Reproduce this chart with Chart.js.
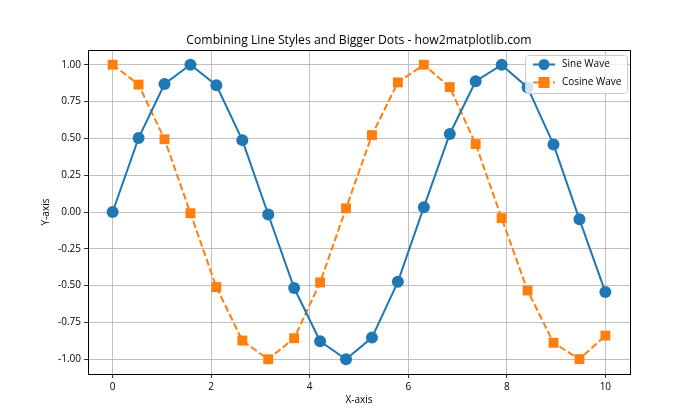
<!DOCTYPE html>
<html>
<head>
<meta charset="utf-8">
<script src="https://cdn.jsdelivr.net/npm/chart.js@4"></script>
<style>
  body { margin: 0; background: #fff; }
  #wrap { width: 700px; height: 420px; }
</style>
</head>
<body>
<div id="wrap"><canvas id="chart" width="700" height="420"></canvas></div>
<script>
// Data
const xValues = [0, 0.526, 1.053, 1.579, 2.105, 2.632, 3.158, 3.684, 4.211, 4.737,
                 5.263, 5.789, 6.316, 6.842, 7.368, 7.895, 8.421, 8.947, 9.474, 10];
const sineValues = [0, 0.502, 0.869, 1.000, 0.861, 0.488, -0.017, -0.516, -0.878, -1.000,
                    -0.853, -0.474, 0.033, 0.530, 0.888, 0.999, 0.846, 0.459, -0.050, -0.544];
const cosineValues = [1.000, 0.865, 0.494, -0.008, -0.510, -0.873, -1.000, -0.857, -0.478, 0.025,
                      0.522, 0.880, 1.000, 0.848, 0.461, -0.042, -0.533, -0.888, -0.999, -0.839];
const xTicks = [0, 2, 4, 6, 8, 10];
const yTicks = [-1.00, -0.75, -0.50, -0.25, 0.00, 0.25, 0.50, 0.75, 1.00];
const seriesNames = ["Sine Wave", "Cosine Wave"];

const blue = "#1f77b4";
const orange = "#ff7f0e";
const font = "Open Sans";

function toPoints(ys) {
    return xValues.map((x, i) => ({ x: x, y: ys[i] }));
}

// Title, axis labels, frame and legend drawn like matplotlib does
const extras = {
    id: "extras",
    afterDraw(chart) {
        const c = chart.ctx;
        const a = chart.chartArea;
        c.save();
        // frame
        c.strokeStyle = "#000";
        c.lineWidth = 1;
        c.strokeRect(Math.round(a.left) + 0.5, Math.round(a.top) + 0.5,
                     Math.round(a.right - a.left), Math.round(a.bottom - a.top));
        // title
        c.fillStyle = "#000";
        c.font = "12.2px '" + font + "'";
        c.textAlign = "center";
        c.textBaseline = "middle";
        c.fillText("Combining Line Styles and Bigger Dots - how2matplotlib.com", (a.left + a.right) / 2, 41);
        // axis labels
        c.font = "10px '" + font + "'";
        c.fillText("X-axis", (a.left + a.right) / 2, 400);
        c.save();
        c.translate(46, (a.top + a.bottom) / 2);
        c.rotate(-Math.PI / 2);
        c.fillText("Y-axis", 0, 0);
        c.restore();

        // legend
        const bx = 525, by = 55, bw = 102, bh = 38;
        c.fillStyle = "rgba(255,255,255,0.8)";
        c.strokeStyle = "#cccccc";
        c.lineWidth = 1;
        c.beginPath();
        c.roundRect(bx + 0.5, by + 0.5, bw, bh, 3);
        c.fill();
        c.stroke();
        const rows = [
            { name: seriesNames[0], color: blue, dash: [], shape: "circle", y: by + 9.5 },
            { name: seriesNames[1], color: orange, dash: [7, 3], shape: "square", y: by + 27.5 }
        ];
        rows.forEach(r => {
            c.strokeStyle = r.color;
            c.lineWidth = 2;
            c.setLineDash(r.dash);
            c.beginPath();
            c.moveTo(bx + 8, r.y);
            c.lineTo(bx + 30, r.y);
            c.stroke();
            c.setLineDash([]);
            c.fillStyle = r.color;
            if (r.shape === "circle") {
                c.beginPath();
                c.arc(bx + 19, r.y, 5.5, 0, Math.PI * 2);
                c.fill();
            } else {
                c.fillRect(bx + 19 - 5.5, r.y - 5.5, 11, 11);
            }
            c.fillStyle = "#000";
            c.font = "10px '" + font + "'";
            c.textAlign = "left";
            c.fillText(r.name, bx + 37, r.y);
        });
        c.restore();
    }
};

const ctx = document.getElementById("chart").getContext("2d");
new Chart(ctx, {
    type: "line",
    data: {
        datasets: [
            {
                label: seriesNames[0],
                data: toPoints(sineValues),
                borderColor: blue,
                backgroundColor: blue,
                borderWidth: 2,
                pointStyle: "circle",
                pointRadius: 6,
                pointBorderWidth: 0,
                tension: 0
            },
            {
                label: seriesNames[1],
                data: toPoints(cosineValues),
                borderColor: orange,
                backgroundColor: orange,
                borderWidth: 2,
                borderDash: [7, 3],
                pointStyle: "rect",
                pointRadius: 7,
                pointBorderWidth: 0,
                tension: 0
            }
        ]
    },
    options: {
        responsive: false,
        animation: false,
        layout: { padding: { top: 50, right: 70, left: 0, bottom: 0 } },
        plugins: {
            legend: { display: false },
            title: { display: false },
            tooltip: { enabled: false }
        },
        scales: {
            x: {
                type: "linear",
                min: -0.5,
                max: 10.5,
                afterFit: s => { s.height = 46; },
                afterBuildTicks: s => { s.ticks = xTicks.map(v => ({ value: v })); },
                grid: { color: "#b0b0b0", lineWidth: 0.8, tickColor: "#000", tickLength: 4, drawTicks: true },
                border: { display: false },
                ticks: { color: "#000", font: { family: font, size: 10 }, padding: 3, maxRotation: 0,
                         callback: v => String(v) }
            },
            y: {
                type: "linear",
                min: -1.1,
                max: 1.1,
                afterFit: s => { s.width = 88; },
                afterBuildTicks: s => { s.ticks = yTicks.map(v => ({ value: v })); },
                grid: { color: "#b0b0b0", lineWidth: 0.8, tickColor: "#000", tickLength: 4, drawTicks: true },
                border: { display: false },
                ticks: { color: "#000", font: { family: font, size: 10 }, padding: 3,
                         callback: v => v.toFixed(2) }
            }
        }
    },
    plugins: [extras]
});
</script>
</body>
</html>
